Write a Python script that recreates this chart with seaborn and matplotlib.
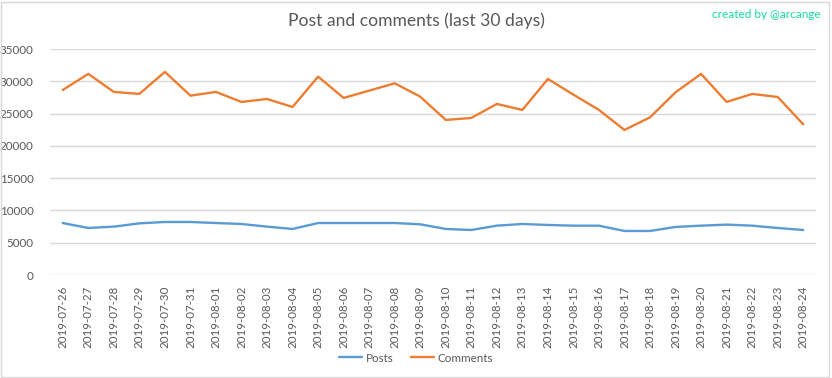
import pandas as pd
import matplotlib.pyplot as plt
import seaborn as sns
from matplotlib.patches import Rectangle

dates = ['2019-07-26', '2019-07-27', '2019-07-28', '2019-07-29', '2019-07-30',
         '2019-07-31', '2019-08-01', '2019-08-02', '2019-08-03', '2019-08-04',
         '2019-08-05', '2019-08-06', '2019-08-07', '2019-08-08', '2019-08-09',
         '2019-08-10', '2019-08-11', '2019-08-12', '2019-08-13', '2019-08-14',
         '2019-08-15', '2019-08-16', '2019-08-17', '2019-08-18', '2019-08-19',
         '2019-08-20', '2019-08-21', '2019-08-22', '2019-08-23', '2019-08-24']

posts = [8050, 7280, 7490, 8000, 8210, 8210, 8050, 7900, 7490, 7130,
         8050, 8050, 8050, 8050, 7850, 7130, 6970, 7640, 7900, 7750,
         7640, 7640, 6820, 6820, 7440, 7640, 7800, 7640, 7280, 6970]

comments = [28650, 31150, 28350, 28050, 31450, 27780, 28350, 26800, 27260, 26020,
            30720, 27420, 28550, 29690, 27620, 24010, 24320, 26490, 25560, 30360,
            27930, 25560, 22460, 24420, 28300, 31140, 26800, 28040, 27570, 23340]

series_names = ['Posts', 'Comments']
colors = ['#5B9BD5', '#ED7D31']

# Данные в длинном формате
df = pd.DataFrame({
    'date': dates * 2,
    'value': posts + comments,
    'series': [series_names[0]] * len(dates) + [series_names[1]] * len(dates),
})

sns.set_style('white')
plt.rcParams['font.family'] = ['Lato', 'DejaVu Sans']
text_color = '#595959'
grid_color = '#D9D9D9'

fig = plt.figure(figsize=(8.32, 3.78), dpi=100)
ax = fig.add_axes([50 / 832, 1 - 275 / 378, 766 / 832, 226 / 378])

sns.lineplot(data=df, x='date', y='value', hue='series', hue_order=series_names,
             palette=colors, linewidth=1.7, ax=ax, legend=False, sort=False)

ax.set_xlim(-0.5, len(dates) - 0.5)
ax.set_ylim(0, 35000)
ax.set_yticks(range(0, 35001, 5000))
ax.grid(axis='y', color=grid_color, linewidth=1)
ax.set_axisbelow(True)
for s in ax.spines.values():
    s.set_visible(False)
ax.set_xlabel('')
ax.set_ylabel('')
ax.set_xticks(range(len(dates)))
ax.set_xticklabels(dates, rotation=90, fontsize=8.3, color=text_color)
ax.tick_params(axis='y', labelsize=8.4, labelcolor=text_color, length=0, pad=12)
ax.tick_params(axis='x', length=0, pad=8)

fig.text(416 / 832, 1 - 21 / 378, 'Post and comments (last 30 days)',
         ha='center', va='center', fontsize=12.6, color=text_color)
fig.text(821 / 832, 1 - 14 / 378, 'created by @arcange',
         ha='right', va='center', fontsize=8.5, color='#19D9A3')

handles = [plt.Line2D([], [], color=c, linewidth=1.7) for c in colors]
fig.legend(handles, series_names, loc='center', bbox_to_anchor=(416 / 832, 1 - 358 / 378),
           ncol=2, frameon=False, fontsize=8.4, handlelength=2.0, handletextpad=0.3,
           columnspacing=1.5, labelcolor=text_color)

# Рамка вокруг диаграммы
fig.patches.append(Rectangle((1 / 832, 1 / 378), 828 / 832, 375 / 378, transform=fig.transFigure,
                             fill=False, edgecolor=grid_color, linewidth=1))

fig.savefig('out.png', dpi=100, facecolor='white')
plt.close(fig)
